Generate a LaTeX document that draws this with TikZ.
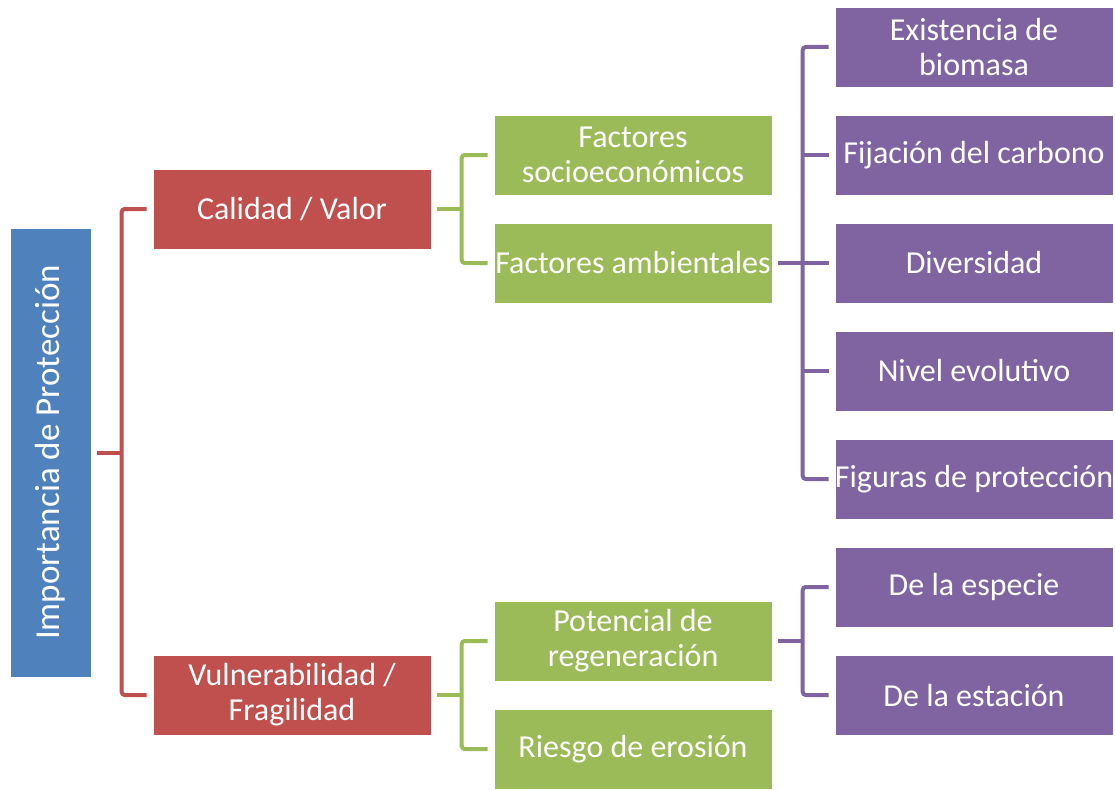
\documentclass[tikz,border=0pt]{standalone}
\usepackage{fontspec}
\setmainfont{Carlito}
\definecolor{cblue}{HTML}{4F81BD}
\definecolor{cred}{HTML}{C0504D}
\definecolor{cgreen}{HTML}{9BBB59}
\definecolor{cpurple}{HTML}{8064A2}
\tikzset{
  box/.style={draw=white, line width=0.6pt, text=white, minimum width=278pt, minimum height=80pt,
     inner sep=0pt, align=center, font=\fontsize{32}{35}\selectfont},
  redbox/.style={box, fill=cred},
  greenbox/.style={box, fill=cgreen},
  purplebox/.style={box, fill=cpurple},
  conn/.style={line width=4pt, rounded corners=3pt, line cap=butt},
}
\begin{document}
\begin{tikzpicture}[x=1pt,y=-1pt]
\useasboundingbox (0,0) rectangle (1115,789);
\node[box, fill=cblue, minimum width=449pt, minimum height=81pt, rotate=90, font=\fontsize{35}{40}\selectfont] (imp) at (50.5,452.5) {Importancia de Protección};
\node[redbox] (cal) at (292,209) {Calidad / Valor};
\node[redbox] (vul) at (292,695) {Vulnerabilidad /\\Fragilidad};
\node[greenbox] (soc) at (633,155) {Factores\\socioeconómicos};
\node[greenbox] (amb) at (633,263) {Factores ambientales};
\node[greenbox] (pot) at (633,641) {Potencial de\\regeneración};
\node[greenbox] (rie) at (633,749) {Riesgo de erosión};
\node[purplebox] (exi) at (974,47) {Existencia de\\biomasa};
\node[purplebox] (fij) at (974,155) {Fijación del carbono};
\node[purplebox] (div) at (974,263) {Diversidad};
\node[purplebox] (niv) at (974,371) {Nivel evolutivo};
\node[purplebox] (fig) at (974,479) {Figuras de protección};
\node[purplebox] (esp) at (974,587) {De la especie};
\node[purplebox] (est) at (974,695) {De la estación};
% red bracket
\draw[conn, cred] ([xshift=6pt]imp.south) -- ++(25,0);
\draw[conn, cred] ([xshift=-6pt]cal.west) -- ++(-25,0) |- ([xshift=-6pt]vul.west);
% green brackets
\draw[conn, cgreen] ([xshift=6pt]cal.east) -- ++(25,0);
\draw[conn, cgreen] ([xshift=-6pt]soc.west) -- ++(-26,0) |- ([xshift=-6pt]amb.west);
\draw[conn, cgreen] ([xshift=6pt]vul.east) -- ++(25,0);
\draw[conn, cgreen] ([xshift=-6pt]pot.west) -- ++(-26,0) |- ([xshift=-6pt]rie.west);
% purple brackets
\draw[conn, cpurple] ([xshift=6pt]amb.east) -- ++(25,0);
\draw[conn, cpurple] ([xshift=-6pt]exi.west) -- ++(-26,0) |- ([xshift=-6pt]fig.west);
\draw[conn, cpurple] ([xshift=-6pt]fij.west) -- ++(-26,0);
\draw[conn, cpurple] ([xshift=-6pt]div.west) -- ++(-26,0);
\draw[conn, cpurple] ([xshift=-6pt]niv.west) -- ++(-26,0);
\draw[conn, cpurple] ([xshift=6pt]pot.east) -- ++(25,0);
\draw[conn, cpurple] ([xshift=-6pt]esp.west) -- ++(-26,0) |- ([xshift=-6pt]est.west);
\end{tikzpicture}
\end{document}
